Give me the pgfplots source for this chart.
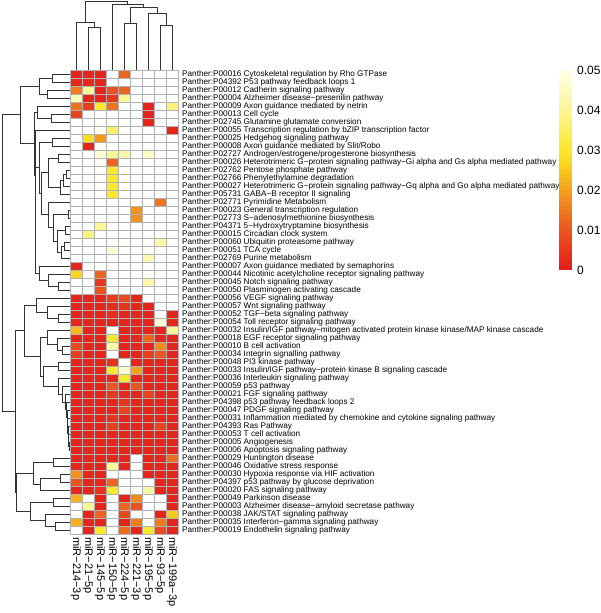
\documentclass[border=0pt]{standalone}
\usepackage{fontspec}
\setmainfont{Liberation Sans}
\usepackage{pgfplots}
\usepackage{pgfplotstable}
\pgfplotsset{compat=1.18}
\pgfdeclareplotmark{cell}{\pgfpathrectangle{\pgfpoint{-6pt}{-4pt}}{\pgfpoint{12pt}{8pt}}\pgfusepathqfillstroke}
\pgfdeclareplotmark{cbar}{\pgfpathrectangle{\pgfpoint{-6.5pt}{-2.1pt}}{\pgfpoint{13pt}{4.2pt}}\pgfusepathqfill}
\pgfplotsset{colormap={heatp}{rgb255(0pt)=(228,26,28) rgb255(10pt)=(235,86,32) rgb255(20pt)=(245,160,30) rgb255(26pt)=(249,210,28) rgb255(30pt)=(250,232,45) rgb255(40pt)=(252,246,150) rgb255(50pt)=(255,255,236) rgb255(51pt)=(255,255,255) rgb255(60pt)=(255,255,255)}}
% 0.06 = not significant (white)
\pgfplotstableread{
row c1 c2 c3 c4 c5 c6 c7 c8 c9
1 0.002 0.002 0.002 0.06 0.012 0.06 0.06 0.06 0.06
2 0.002 0.002 0.002 0.06 0.06 0.06 0.06 0.06 0.06
3 0.015 0.040 0.002 0.009 0.012 0.06 0.06 0.06 0.06
4 0.044 0.002 0.002 0.005 0.040 0.06 0.06 0.06 0.06
5 0.014 0.006 0.030 0.014 0.06 0.06 0.002 0.06 0.038
6 0.007 0.06 0.06 0.06 0.06 0.06 0.002 0.06 0.06
7 0.06 0.06 0.06 0.06 0.06 0.06 0.002 0.06 0.06
8 0.06 0.06 0.06 0.036 0.06 0.06 0.06 0.06 0.002
9 0.06 0.028 0.019 0.06 0.06 0.06 0.06 0.06 0.06
10 0.06 0.002 0.06 0.06 0.06 0.06 0.06 0.06 0.06
11 0.06 0.06 0.047 0.040 0.042 0.06 0.046 0.06 0.06
12 0.06 0.06 0.06 0.012 0.06 0.06 0.06 0.06 0.06
13 0.06 0.06 0.06 0.030 0.06 0.06 0.06 0.06 0.06
14 0.06 0.06 0.06 0.030 0.06 0.06 0.06 0.06 0.06
15 0.06 0.06 0.06 0.030 0.06 0.06 0.06 0.06 0.06
16 0.06 0.06 0.06 0.030 0.06 0.06 0.06 0.06 0.06
17 0.06 0.06 0.06 0.06 0.06 0.06 0.06 0.014 0.06
18 0.06 0.06 0.06 0.06 0.06 0.018 0.06 0.06 0.06
19 0.06 0.06 0.06 0.06 0.06 0.018 0.06 0.06 0.06
20 0.06 0.06 0.040 0.06 0.06 0.06 0.06 0.06 0.06
21 0.06 0.038 0.06 0.06 0.06 0.06 0.06 0.06 0.06
22 0.06 0.06 0.06 0.06 0.06 0.06 0.06 0.042 0.06
23 0.06 0.06 0.06 0.047 0.06 0.06 0.06 0.06 0.06
24 0.06 0.06 0.06 0.06 0.06 0.06 0.043 0.06 0.06
25 0.002 0.06 0.06 0.06 0.06 0.06 0.06 0.06 0.06
26 0.027 0.06 0.012 0.06 0.06 0.06 0.06 0.06 0.06
27 0.06 0.06 0.005 0.06 0.06 0.06 0.042 0.06 0.06
28 0.06 0.06 0.010 0.06 0.06 0.06 0.06 0.06 0.06
29 0.002 0.002 0.002 0.006 0.008 0.002 0.06 0.06 0.06
30 0.002 0.002 0.002 0.003 0.004 0.002 0.002 0.06 0.06
31 0.002 0.002 0.002 0.003 0.002 0.002 0.002 0.06 0.002
32 0.002 0.002 0.002 0.002 0.002 0.002 0.002 0.047 0.002
33 0.023 0.002 0.002 0.06 0.002 0.002 0.002 0.002 0.040
34 0.002 0.002 0.002 0.030 0.002 0.002 0.012 0.002 0.002
35 0.008 0.002 0.002 0.042 0.002 0.002 0.002 0.017 0.002
36 0.006 0.002 0.002 0.06 0.002 0.002 0.006 0.010 0.002
37 0.002 0.002 0.002 0.004 0.06 0.002 0.002 0.002 0.002
38 0.002 0.002 0.002 0.030 0.047 0.020 0.002 0.002 0.002
39 0.002 0.002 0.002 0.002 0.030 0.002 0.002 0.002 0.002
40 0.002 0.002 0.002 0.010 0.002 0.010 0.002 0.002 0.002
41 0.002 0.002 0.002 0.005 0.002 0.002 0.007 0.002 0.002
42 0.002 0.002 0.002 0.002 0.004 0.002 0.002 0.002 0.002
43 0.002 0.002 0.002 0.002 0.007 0.002 0.002 0.002 0.002
44 0.002 0.002 0.002 0.004 0.002 0.002 0.002 0.002 0.002
45 0.002 0.002 0.002 0.006 0.002 0.002 0.002 0.007 0.002
46 0.002 0.002 0.002 0.002 0.002 0.002 0.002 0.002 0.002
47 0.002 0.002 0.002 0.002 0.002 0.002 0.002 0.002 0.002
48 0.002 0.002 0.002 0.002 0.002 0.002 0.002 0.002 0.002
49 0.002 0.002 0.002 0.002 0.002 0.06 0.002 0.002 0.013
50 0.002 0.002 0.002 0.040 0.002 0.06 0.002 0.002 0.002
51 0.018 0.002 0.002 0.06 0.06 0.06 0.002 0.002 0.002
52 0.010 0.002 0.002 0.012 0.06 0.06 0.06 0.002 0.002
53 0.002 0.002 0.004 0.030 0.06 0.06 0.042 0.002 0.002
54 0.022 0.06 0.002 0.06 0.002 0.017 0.06 0.06 0.002
55 0.06 0.040 0.002 0.06 0.012 0.009 0.06 0.06 0.002
56 0.06 0.002 0.012 0.06 0.008 0.06 0.06 0.002 0.025
57 0.022 0.002 0.002 0.06 0.002 0.015 0.06 0.015 0.002
58 0.06 0.002 0.030 0.06 0.013 0.002 0.030 0.008 0.002
}\hm
\begin{document}
\begin{tikzpicture}
\path[use as bounding box] (0pt,-613pt) rectangle (600pt,0pt);
% heatmap
\begin{axis}[at={(70pt,-70pt)}, anchor=north west, scale only axis,
  width=108pt, height=464pt, xmin=0.5, xmax=9.5, ymin=0.5, ymax=58.5, y dir=reverse,
  axis line style={draw=none}, major tick length=0pt, clip=false,
  colormap name=heatp, point meta min=0, point meta max=0.06,
  xtick={1,...,9},
  xticklabels={miR−214−3p,miR−21−5p,miR−145−5p,miR−150−5p,miR−224−5p,miR−221−3p,miR−195−5p,miR−93−5p,miR−199a−3p},
  xticklabel style={font=\fontsize{11}{11}\selectfont, rotate=-90, anchor=west, inner ysep=0pt, inner xsep=3pt},
  ytick={1,...,58}, yticklabel pos=right,
  yticklabel style={font=\fontsize{8.2}{8.2}\selectfont, anchor=west, inner ysep=0pt, inner xsep=4pt},
  yticklabels={
Panther:P00016 Cytoskeletal regulation by Rho GTPase,
Panther:P04392 P53 pathway feedback loops 1,
Panther:P00012 Cadherin signaling pathway,
Panther:P00004 Alzheimer disease−presenilin pathway,
Panther:P00009 Axon guidance mediated by netrin,
Panther:P00013 Cell cycle,
Panther:P02745 Glutamine glutamate conversion,
Panther:P00055 Transcription regulation by bZIP transcription factor,
Panther:P00025 Hedgehog signaling pathway,
Panther:P00008 Axon guidance mediated by Slit/Robo,
Panther:P02727 Androgen/estrogene/progesterone biosynthesis,
Panther:P00026 Heterotrimeric G−protein signaling pathway−Gi alpha and Gs alpha mediated pathway,
Panther:P02762 Pentose phosphate pathway,
Panther:P02766 Phenylethylamine degradation,
Panther:P00027 Heterotrimeric G−protein signaling pathway−Gq alpha and Go alpha mediated pathway,
Panther:P05731 GABA−B receptor II signaling,
Panther:P02771 Pyrimidine Metabolism,
Panther:P00023 General transcription regulation,
Panther:P02773 S−adenosylmethionine biosynthesis,
Panther:P04371 5−Hydroxytryptamine biosynthesis,
Panther:P00015 Circadian clock system,
Panther:P00060 Ubiquitin proteasome pathway,
Panther:P00051 TCA cycle,
Panther:P02769 Purine metabolism,
Panther:P00007 Axon guidance mediated by semaphorins,
Panther:P00044 Nicotinic acetylcholine receptor signaling pathway,
Panther:P00045 Notch signaling pathway,
Panther:P00050 Plasminogen activating cascade,
Panther:P00056 VEGF signaling pathway,
Panther:P00057 Wnt signaling pathway,
Panther:P00052 TGF−beta signaling pathway,
Panther:P00054 Toll receptor signaling pathway,
Panther:P00032 Insulin/IGF pathway−mitogen activated protein kinase kinase/MAP kinase cascade,
Panther:P00018 EGF receptor signaling pathway,
Panther:P00010 B cell activation,
Panther:P00034 Integrin signalling pathway,
Panther:P00048 PI3 kinase pathway,
Panther:P00033 Insulin/IGF pathway−protein kinase B signaling cascade,
Panther:P00036 Interleukin signaling pathway,
Panther:P00059 p53 pathway,
Panther:P00021 FGF signaling pathway,
Panther:P04398 p53 pathway feedback loops 2,
Panther:P00047 PDGF signaling pathway,
Panther:P00031 Inflammation mediated by chemokine and cytokine signaling pathway,
Panther:P04393 Ras Pathway,
Panther:P00053 T cell activation,
Panther:P00005 Angiogenesis,
Panther:P00006 Apoptosis signaling pathway,
Panther:P00029 Huntington disease,
Panther:P00046 Oxidative stress response,
Panther:P00030 Hypoxia response via HIF activation,
Panther:P04397 p53 pathway by glucose deprivation,
Panther:P00020 FAS signaling pathway,
Panther:P00049 Parkinson disease,
Panther:P00003 Alzheimer disease−amyloid secretase pathway,
Panther:P00038 JAK/STAT signaling pathway,
Panther:P00035 Interferon−gamma signaling pathway,
Panther:P00019 Endothelin signaling pathway}
]
\pgfplotsinvokeforeach{1,...,9}{
\addplot[scatter, only marks, mark=cell, line width=0.7pt, point meta=explicit,
  scatter/use mapped color={draw=black!30, fill=mapped color}]
  table[x expr=#1, y=row, meta=c#1] {\hm};
}
\end{axis}
% left dendrogram
\begin{axis}[at={(0pt,-70pt)}, anchor=north west, scale only axis, width=70pt, height=464pt,
  xmin=0, xmax=70, x dir=reverse, ymin=0.5, ymax=58.5, y dir=reverse, hide axis, clip=false,
  unbounded coords=jump]
\addplot[black!80, line width=0.8pt] coordinates {
(0,1)(18,1)(18,2)(0,2) (nan,nan)
(0,3)(23,3)(23,4)(0,4) (nan,nan)
(18,1.5)(31,1.5)(31,3.5)(23,3.5) (nan,nan)
(0,6)(19,6)(19,7)(0,7) (nan,nan)
(0,5)(33,5)(33,6.5)(19,6.5) (nan,nan)
(0,9)(18,9)(18,10)(0,10) (nan,nan)
(0,11)(12,11)(12,12)(0,12) (nan,nan)
(0,13)(4,13)(4,14)(0,14) (nan,nan)
(4,13.5)(7,13.5)(7,15)(0,15) (nan,nan)
(7,14.25)(10,14.25)(10,16)(0,16) (nan,nan)
(12,11.5)(22,11.5)(22,15.125)(10,15.125) (nan,nan)
(0,18)(2,18)(2,19)(0,19) (nan,nan)
(0,20)(5,20)(5,21)(0,21) (nan,nan)
(0,22)(6,22)(6,23)(0,23) (nan,nan)
(6,22.5)(9,22.5)(9,24)(0,24) (nan,nan)
(5,20.5)(13,20.5)(13,23.25)(9,23.25) (nan,nan)
(2,18.5)(17,18.5)(17,21.875)(13,21.875) (nan,nan)
(0,17)(22,17)(22,20.1875)(17,20.1875) (nan,nan)
(22,13.3125)(29,13.3125)(29,18.5938)(22,18.5938) (nan,nan)
(18,9.5)(31,9.5)(31,15.9531)(29,15.9531) (nan,nan)
(0,27)(12,27)(12,28)(0,28) (nan,nan)
(0,26)(22,26)(22,27.5)(12,27.5) (nan,nan)
(0,25)(31,25)(31,26.75)(22,26.75) (nan,nan)
(31,12.7266)(34.5,12.7266)(34.5,25.875)(31,25.875) (nan,nan)
(0,8)(35,8)(35,19.3008)(34.5,19.3008) (nan,nan)
(33,5.75)(35.5,5.75)(35.5,13.6504)(35,13.6504) (nan,nan)
(31,2.5)(50,2.5)(50,9.7002)(35.5,9.7002) (nan,nan)
(0,31)(12,31)(12,32)(0,32) (nan,nan)
(0,30)(23,30)(23,31.5)(12,31.5) (nan,nan)
(0,29)(34,29)(34,30.75)(23,30.75) (nan,nan)
(0,35)(8,35)(8,36)(0,36) (nan,nan)
(0,34)(13,34)(13,35.5)(8,35.5) (nan,nan)
(0,33)(23,33)(23,34.75)(13,34.75) (nan,nan)
(0,47)(1,47)(1,48)(0,48) (nan,nan)
(0,46)(1.5,46)(1.5,47.5)(1,47.5) (nan,nan)
(0,45)(2,45)(2,46.75)(1.5,46.75) (nan,nan)
(0,44)(2.5,44)(2.5,45.875)(2,45.875) (nan,nan)
(0,43)(3,43)(3,44.9375)(2.5,44.9375) (nan,nan)
(0,42)(3.5,42)(3.5,43.9688)(3,43.9688) (nan,nan)
(0,41)(5,41)(5,42.9844)(3.5,42.9844) (nan,nan)
(0,40)(8,40)(8,41.9922)(5,41.9922) (nan,nan)
(0,39)(12,39)(12,40.9961)(8,40.9961) (nan,nan)
(0,37)(12,37)(12,38)(0,38) (nan,nan)
(12,37.5)(27,37.5)(27,39.998)(12,39.998) (nan,nan)
(23,33.875)(30,33.875)(30,38.749)(27,38.749) (nan,nan)
(34,29.875)(46,29.875)(46,36.312)(30,36.312) (nan,nan)
(0,49)(17,49)(17,50)(0,50) (nan,nan)
(0,51)(10,51)(10,52)(0,52) (nan,nan)
(10,51.5)(30,51.5)(30,53)(0,53) (nan,nan)
(17,49.5)(37,49.5)(37,52.25)(30,52.25) (nan,nan)
(0,54)(17,54)(17,55)(0,55) (nan,nan)
(0,57)(15,57)(15,58)(0,58) (nan,nan)
(0,56)(25,56)(25,57.5)(15,57.5) (nan,nan)
(17,54.5)(40,54.5)(40,56.75)(25,56.75) (nan,nan)
(37,50.875)(54,50.875)(54,55.625)(40,55.625) (nan,nan)
(46,33.0935)(55,33.0935)(55,53.25)(54,53.25) (nan,nan)
(50,6.1001)(68,6.1001)(68,43.1718)(55,43.1718)
};
\end{axis}
% top dendrogram
\begin{axis}[at={(70pt,0pt)}, anchor=north west, scale only axis, width=108pt, height=70pt,
  xmin=0.5, xmax=9.5, ymin=0, ymax=70, hide axis, clip=false, unbounded coords=jump]
\addplot[black!80, line width=0.8pt] coordinates {
(2,0)(2,43)(3,43)(3,0) (nan,nan)
(1,0)(1,48)(2.5,48)(2.5,43) (nan,nan)
(8,0)(8,45)(9,45)(9,0) (nan,nan)
(7,0)(7,57)(8.5,57)(8.5,45) (nan,nan)
(5,0)(5,47)(6,47)(6,0) (nan,nan)
(5.5,47)(5.5,63)(7.75,63)(7.75,57) (nan,nan)
(4,0)(4,66)(6.625,66)(6.625,63) (nan,nan)
(1.75,48)(1.75,69)(5.3125,69)(5.3125,66)
};
\end{axis}
% colour key
\begin{axis}[at={(559pt,-270pt)}, anchor=south west, scale only axis, width=13pt, height=200pt,
  xmin=0, xmax=1, ymin=0, ymax=0.05, axis line style={draw=none}, major tick length=0pt,
  clip=false, xtick=\empty, ytick={0,0.01,0.02,0.03,0.04,0.05}, scaled y ticks=false,
  yticklabels={0,0.01,0.02,0.03,0.04,0.05}, yticklabel pos=right,
  yticklabel style={font=\fontsize{12}{12}\selectfont, anchor=west, inner xsep=5pt},
  colormap name=heatp, point meta min=0, point meta max=0.06]
\addplot[scatter, only marks, mark=cbar, point meta=y,
  scatter/use mapped color={draw=none, fill=mapped color}] coordinates {
(0.5,0.0005)(0.5,0.0015)(0.5,0.0025)(0.5,0.0035)(0.5,0.0045)(0.5,0.0055)(0.5,0.0065)(0.5,0.0075)(0.5,0.0085)(0.5,0.0095)
(0.5,0.0105)(0.5,0.0115)(0.5,0.0125)(0.5,0.0135)(0.5,0.0145)(0.5,0.0155)(0.5,0.0165)(0.5,0.0175)(0.5,0.0185)(0.5,0.0195)
(0.5,0.0205)(0.5,0.0215)(0.5,0.0225)(0.5,0.0235)(0.5,0.0245)(0.5,0.0255)(0.5,0.0265)(0.5,0.0275)(0.5,0.0285)(0.5,0.0295)
(0.5,0.0305)(0.5,0.0315)(0.5,0.0325)(0.5,0.0335)(0.5,0.0345)(0.5,0.0355)(0.5,0.0365)(0.5,0.0375)(0.5,0.0385)(0.5,0.0395)
(0.5,0.0405)(0.5,0.0415)(0.5,0.0425)(0.5,0.0435)(0.5,0.0445)(0.5,0.0455)(0.5,0.0465)(0.5,0.0475)(0.5,0.0485)(0.5,0.0495)
};
\end{axis}
\end{tikzpicture}
\end{document}
